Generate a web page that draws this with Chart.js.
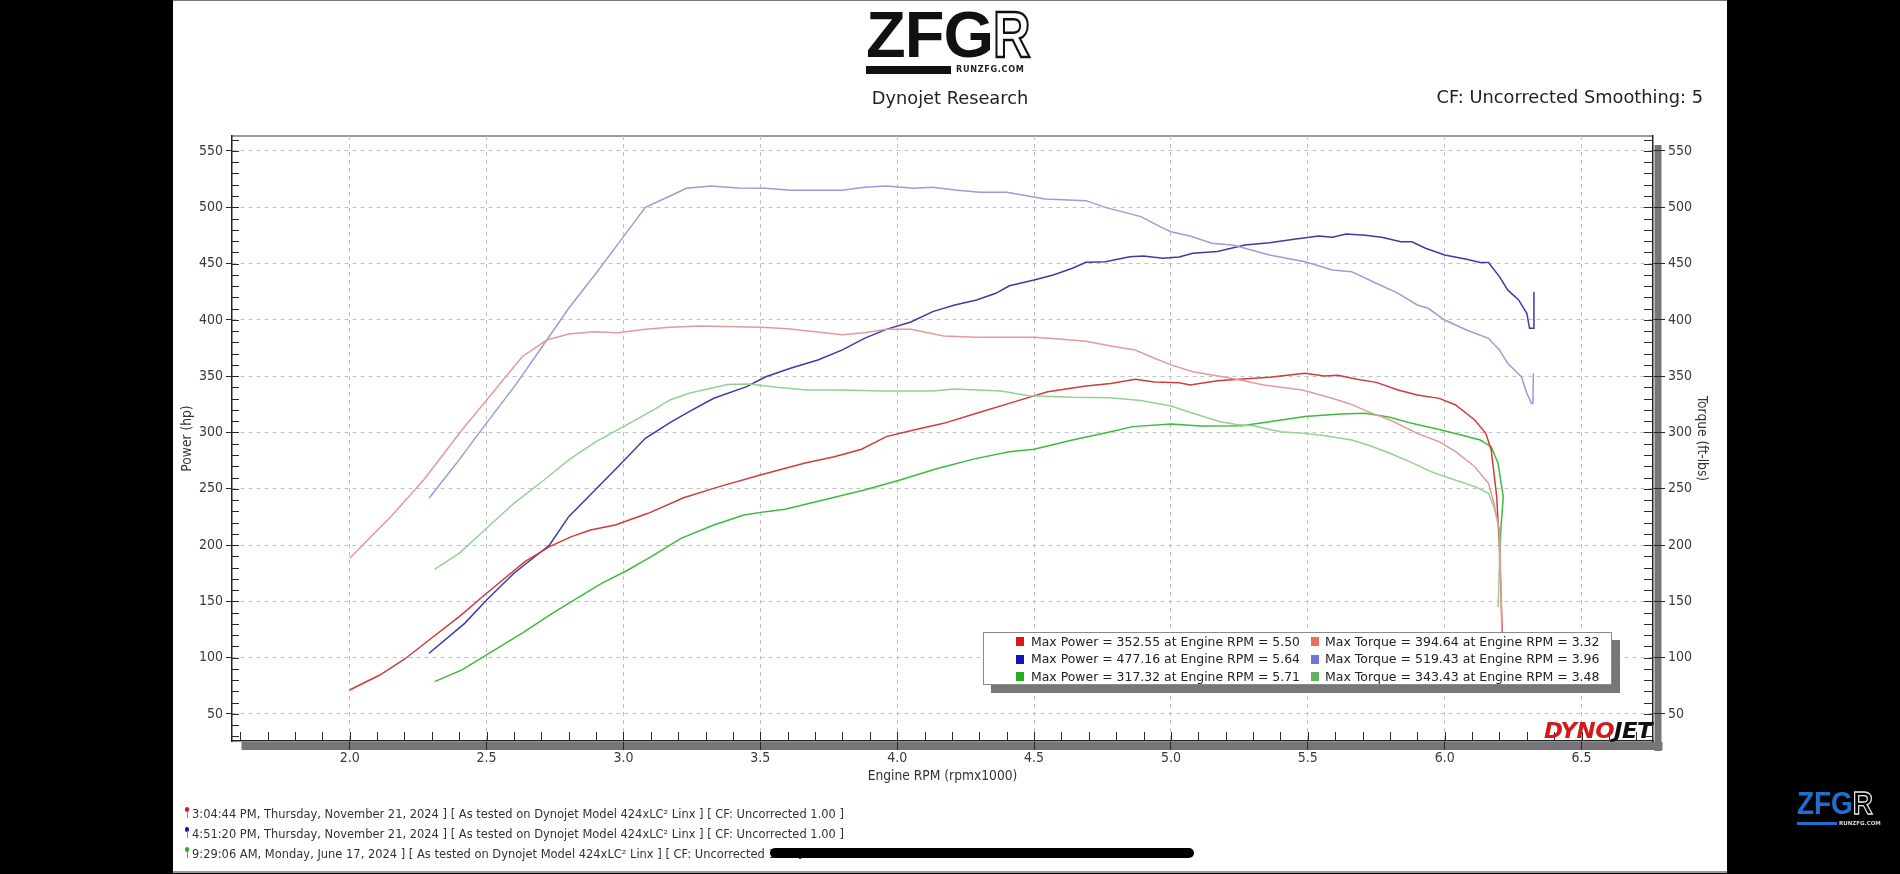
<!DOCTYPE html>
<html><head><meta charset="utf-8">
<script src="https://cdn.jsdelivr.net/npm/chart.js@4.4.1/dist/chart.umd.min.js"></script>
<style>
html,body{margin:0;padding:0;background:#000;width:1900px;height:874px;overflow:hidden;}
#panel{position:absolute;left:173px;top:0;width:1554px;height:873px;background:#fff;border-top:1px solid #777;border-bottom:2px solid #999;box-sizing:border-box}
#c{position:absolute;left:0;top:0;}
.t{position:absolute;white-space:nowrap;font-family:"DejaVu Sans",sans-serif;color:#2b2b2b}
#legend{position:absolute;left:983px;top:632px;width:629px;height:53px;background:#fff;border:1px solid #8a8a8a;box-sizing:border-box;box-shadow:8px 8px 0 #777;}
.lrow{position:absolute;height:18px;line-height:18px;font-size:13px;font-family:"DejaVu Sans",sans-serif;color:#222;white-space:nowrap;transform-origin:0 50%}
.sq{position:absolute;width:8px;height:9px}
.pin{position:absolute;width:4px;height:5px;border-radius:2px}
.stem{position:absolute;width:1px;height:7px;background:#8a8a8a}
.fl{transform-origin:0 50%}
</style></head><body>
<div id="panel"></div>
<canvas id="c" width="1900" height="874"></canvas>

<!-- top logo -->
<div class="t" style="left:866px;top:0px;font-family:'Liberation Sans',Arial,sans-serif;font-weight:bold;font-size:65px;line-height:70px;color:#111;letter-spacing:-1px">ZFG<span style="color:#fff;-webkit-text-stroke:2.5px #111;display:inline-block;transform:scaleX(0.8);transform-origin:0 0">R</span></div>
<div style="position:absolute;left:866px;top:66px;width:85px;height:8px;background:#111"></div>
<div class="t" id="runzfg" style="left:956px;top:64px;font-size:9px;line-height:11px;font-weight:bold;color:#222;letter-spacing:0.7px;font-family:'DejaVu Sans Condensed','DejaVu Sans',sans-serif">RUNZFG.COM</div>

<div class="t" id="title" style="left:950px;top:86px;font-size:17.8px;line-height:24px;transform:translateX(-50%);color:#222">Dynojet Research</div>
<div class="t" id="cf" style="right:197px;top:85px;font-size:17.8px;line-height:24px;color:#222">CF: Uncorrected Smoothing: 5</div>

<div id="legend"></div>

<div class="t" id="dynojet" style="left:1544px;top:720px;font-weight:bold;font-style:italic;font-size:21px;line-height:22px;letter-spacing:-0.5px;transform-origin:0 0"><span style="color:#d4181c">DYNO</span><span style="color:#111">JET</span></div>

<div id="footer"></div>
<div style="position:absolute;left:770px;top:848px;width:424px;height:10px;border-radius:5px;background:#000"></div>

<!-- bottom right logo -->
<div class="t" style="left:1797px;top:787px;font-family:'Liberation Sans',Arial,sans-serif;font-weight:bold;font-size:31px;line-height:34px;color:#1f6fd1;transform:scaleX(0.9);transform-origin:0 0">ZFG<span style="color:#000;-webkit-text-stroke:1.3px #e8e8e8">R</span></div>
<div style="position:absolute;left:1797px;top:822px;width:40px;height:3px;background:#1f6fd1"></div>
<div class="t" style="left:1839px;top:820px;font-size:5.5px;line-height:7px;color:#ddd;font-weight:bold">RUNZFG.COM</div>

<script>
// ---------------- DATA ----------------
const X_MIN = 1.57, X_MAX = 6.761;
const Y_MIN = 26, Y_MAX = 563.3;
const xTickStep = 0.5, yTickStep = 50;
const xMinorStep = 0.1, yMinorStep = 10;

// Run 1 (red) - 3:04:44 PM Nov 21, 2024
const run1PowerRpm = [2.00,2.11,2.20,2.29,2.40,2.50,2.64,2.73,2.81,2.88,2.97,3.09,3.22,3.35,3.50,3.66,3.77,3.87,3.96,4.06,4.17,4.29,4.43,4.55,4.69,4.78,4.87,4.94,5.03,5.07,5.17,5.25,5.36,5.49,5.56,5.61,5.68,5.75,5.83,5.90,5.98,6.04,6.11,6.15,6.17,6.19,6.20,6.21,6.215];
const run1PowerHp  = [71.3,84.6,98.6,115.7,136.4,157.2,185.3,198.6,207.5,213.4,217.8,228.2,242.0,251.9,262.3,272.6,278.5,285.1,296.3,302.2,308.1,317.0,327.4,336.2,341.3,343.6,347.2,344.8,344.2,342.2,346.0,347.2,349.0,352.5,350.2,350.8,347.2,344.5,337.7,333.3,330.3,324.4,311.1,299.2,284.5,243.0,198.6,124.6,105.0];
const run1TorqueRpm = [2.00,2.15,2.27,2.41,2.51,2.63,2.72,2.80,2.89,2.98,3.08,3.17,3.28,3.50,3.60,3.80,3.88,3.96,4.05,4.17,4.29,4.50,4.58,4.69,4.78,4.87,4.94,5.00,5.08,5.22,5.34,5.48,5.57,5.65,5.72,5.80,5.90,5.98,6.04,6.11,6.16,6.18,6.20,6.205,6.21];
const run1TorqueFt  = [188.3,225.2,257.8,302.2,331.8,367.3,382.1,387.5,389.5,388.6,391.6,393.4,394.6,393.4,392.2,386.9,388.6,391.6,391.6,385.7,384.5,384.5,383.3,381.0,376.8,373.3,365.9,360.0,354.0,348.1,342.2,337.7,331.8,325.8,318.5,311.1,299.2,291.8,282.9,269.6,254.9,237.1,213.4,170.0,105.0];

// Run 2 (blue) - 4:51:20 PM Nov 21, 2024
const run2PowerRpm = [2.29,2.42,2.50,2.60,2.73,2.80,2.89,2.98,3.08,3.17,3.24,3.33,3.45,3.52,3.61,3.71,3.80,3.88,3.96,4.05,4.13,4.21,4.29,4.36,4.41,4.50,4.57,4.64,4.69,4.76,4.85,4.90,4.97,5.03,5.08,5.17,5.27,5.36,5.45,5.54,5.59,5.64,5.71,5.77,5.84,5.88,5.93,6.00,6.08,6.13,6.16,6.20,6.23,6.27,6.30,6.31,6.325,6.326];
const run2PowerHp  = [103.9,130.5,151.2,175.0,200.1,225.2,247.4,269.6,294.8,308.7,318.5,330.4,340.7,349.5,357.0,364.4,373.3,383.6,391.6,398.1,407.3,413.2,417.7,423.6,430.3,435.4,439.9,445.8,451.1,451.7,456.1,456.8,454.7,455.9,459.2,460.7,466.5,468.6,471.6,474.5,473.3,476.3,475.1,473.3,469.4,469.4,463.6,457.7,453.8,450.9,450.9,438.4,426.6,417.7,405.9,392.5,392.5,425.0];
const run2TorqueRpm = [2.29,2.39,2.49,2.61,2.72,2.80,2.90,3.00,3.08,3.17,3.23,3.32,3.42,3.52,3.61,3.80,3.88,3.96,4.06,4.13,4.21,4.30,4.40,4.54,4.69,4.76,4.89,4.96,5.00,5.07,5.15,5.23,5.36,5.49,5.59,5.66,5.75,5.83,5.90,5.94,6.00,6.08,6.16,6.20,6.23,6.28,6.30,6.317,6.322,6.324];
const run2TorqueFt  = [241.6,272.6,305.2,343.6,382.1,410.3,441.4,473.9,499.9,510.0,516.8,518.9,517.1,516.8,515.1,515.1,517.7,518.9,516.8,517.7,515.4,513.3,513.3,507.4,505.9,499.9,491.7,482.8,478.3,474.5,468.0,466.2,457.7,451.7,444.3,442.8,432.5,423.6,413.2,410.3,399.9,391.0,383.6,373.3,361.5,349.5,334.8,325.8,325.8,352.5];

// Run 3 (green) - 9:29:06 AM Jun 17, 2024
const run3PowerRpm = [2.31,2.41,2.50,2.63,2.74,2.84,2.92,3.01,3.10,3.21,3.33,3.44,3.52,3.59,3.73,3.88,4.01,4.15,4.29,4.41,4.50,4.64,4.78,4.86,5.00,5.11,5.26,5.36,5.49,5.62,5.71,5.80,5.88,5.98,6.06,6.13,6.17,6.195,6.214,6.205,6.20];
const run3PowerHp  = [78.7,89.1,102.4,121.7,139.4,154.2,166.0,177.0,189.5,206.0,217.8,226.7,229.7,231.8,240.0,248.9,257.8,268.2,277.0,282.9,285.1,293.3,300.7,305.2,307.5,305.8,306.0,309.6,314.1,316.4,317.0,313.5,308.1,302.7,297.8,293.3,287.4,272.6,243.0,213.4,172.0];
const run3TorqueRpm = [2.31,2.40,2.48,2.60,2.71,2.80,2.90,3.00,3.11,3.17,3.24,3.38,3.46,3.56,3.67,3.80,3.94,4.13,4.21,4.38,4.48,4.64,4.78,4.89,5.00,5.08,5.18,5.24,5.30,5.40,5.49,5.57,5.66,5.72,5.80,5.88,5.95,6.03,6.11,6.16,6.18,6.20,6.20,6.195];
const run3TorqueFt  = [178.5,192.7,210.5,237.1,257.8,275.6,291.8,305.2,320.0,328.9,334.8,342.7,343.1,340.1,337.7,337.7,336.9,336.9,338.6,336.9,332.7,331.2,330.9,328.3,323.5,317.0,309.6,307.0,306.0,300.7,299.2,296.9,293.3,288.9,281.5,273.2,265.2,258.4,251.9,246.0,234.1,213.4,180.0,145.0];

// Legend summary values
const maxPower     = [352.55, 477.16, 317.32];
const maxPowerRpm  = [5.50, 5.64, 5.71];
const maxTorque    = [394.64, 519.43, 343.43];
const maxTorqueRpm = [3.32, 3.96, 3.48];

const runLabels = [
  "3:04:44 PM, Thursday, November 21, 2024 ] [ As tested on Dynojet Model 424xLC\u00B2 Linx ] [ CF: Uncorrected 1.00 ]",
  "4:51:20 PM, Thursday, November 21, 2024 ] [ As tested on Dynojet Model 424xLC\u00B2 Linx ] [ CF: Uncorrected 1.00 ]",
  "9:29:06 AM, Monday, June 17, 2024 ] [ As tested on Dynojet Model 424xLC\u00B2 Linx ] [ CF: Uncorrected 1.00 ]"
];

// ---------------- STYLE ----------------
const FONT = "'DejaVu Sans Condensed','DejaVu Sans',sans-serif";
const powerLine  = ['#d13b3b', '#3c3ca6', '#3dbb3d'];
const torqueLine = ['#e59a9a', '#9c9cd8', '#93d193'];
const powerSq    = ['#e01414', '#1414b4', '#22b022'];
const torqueSq   = ['#e8705f', '#7474d8', '#62b462'];
const pinColors  = ['#e01414', '#1414b4', '#22b022'];

function pts(xs, ys){ return xs.map((x,i)=>({x:x, y:ys[i]})); }

const runs = [
  {p: pts(run1PowerRpm, run1PowerHp), t: pts(run1TorqueRpm, run1TorqueFt)},
  {p: pts(run2PowerRpm, run2PowerHp), t: pts(run2TorqueRpm, run2TorqueFt)},
  {p: pts(run3PowerRpm, run3PowerHp), t: pts(run3TorqueRpm, run3TorqueFt)}
];
const datasets = [];
runs.forEach((r,i)=>{
  datasets.push({label:'Torque '+(i+1), data:r.t, yAxisID:'y2', borderColor:torqueLine[i], borderWidth:1.5, pointRadius:0, tension:0, fill:false});
});
runs.forEach((r,i)=>{
  datasets.push({label:'Power '+(i+1), data:r.p, yAxisID:'y', borderColor:powerLine[i], borderWidth:1.5, pointRadius:0, tension:0, fill:false});
});

const framePlugin = {
  id: 'frame',
  beforeDraw(chart){
    const {ctx, chartArea:a} = chart;
    ctx.save();
    ctx.fillStyle = '#767676';
    ctx.fillRect(a.left + 9.5, a.bottom + 1, a.right - a.left, 8);
    ctx.fillRect(a.right + 1.5, a.top + 9, 7, a.bottom - a.top + 1);
    ctx.fillStyle = '#9a9a9a';
    ctx.fillRect(a.left, a.top - 1, a.right - a.left, 2);
    ctx.restore();
  },
  afterDraw(chart){
    const {ctx, chartArea:a, scales} = chart;
    const x = scales.x, y = scales.y;
    ctx.save();
    ctx.strokeStyle = '#2a2a2a'; ctx.lineWidth = 1;
    ctx.beginPath();
    const xStart = Math.ceil(X_MIN / xMinorStep) * xMinorStep;
    for (let k = 0; xStart + k*xMinorStep <= X_MAX; k++){
      const px = Math.round(x.getPixelForValue(xStart + k*xMinorStep)) + 0.5;
      ctx.moveTo(px, a.bottom); ctx.lineTo(px, a.bottom - 9);
    }
    const yStart = Math.ceil(Y_MIN / yMinorStep) * yMinorStep;
    for (let k = 0; yStart + k*yMinorStep <= Y_MAX; k++){
      const py = Math.round(y.getPixelForValue(yStart + k*yMinorStep)) + 0.5;
      ctx.moveTo(a.left, py); ctx.lineTo(a.left + 7, py);
      ctx.moveTo(a.right, py); ctx.lineTo(a.right - 9, py);
    }
    ctx.stroke();
    ctx.restore();
  }
};

const tickFont = {family: FONT, size: 14};
const titleFont = {family: FONT, size: 13.7};
new Chart(document.getElementById('c'), {
  type: 'line',
  data: {datasets: datasets},
  options: {
    responsive: false, animation: false, devicePixelRatio: 1,
    layout: {padding: {top: 136, left: 0, right: 0, bottom: 0}},
    plugins: {legend: {display: false}, tooltip: {enabled: false}, title: {display: false}},
    scales: {
      x: {
        type: 'linear', position: 'bottom', min: X_MIN, max: X_MAX,
        afterFit: s => { s.height = 133; },
        ticks: {stepSize: xTickStep, includeBounds: false, autoSkip: false, maxRotation: 0, padding: 0, color: '#3a3a3a', font: tickFont, callback: v => Number(v).toFixed(1)},
        grid: {color: '#c2c2c2', lineWidth: 1, tickLength: 9, tickColor: '#2a2a2a', drawTicks: true},
        border: {display: true, color: '#222', width: 1.5, dash: [4,4]},
        title: {display: true, text: 'Engine RPM (rpmx1000)', color: '#333', font: titleFont, padding: {top: 0, bottom: 89}}
      },
      y: {
        type: 'linear', position: 'left', min: Y_MIN, max: Y_MAX,
        afterFit: s => { s.width = 232; },
        ticks: {stepSize: yTickStep, includeBounds: false, padding: 3, color: '#3a3a3a', font: tickFont},
        grid: {color: '#c2c2c2', lineWidth: 1, tickLength: 6, tickColor: '#2a2a2a'},
        border: {display: true, color: '#222', width: 1.5, dash: [4,4]},
        title: {display: true, text: 'Power (hp)', color: '#333', font: titleFont, padding: {top: 179, bottom: 0}}
      },
      y2: {
        type: 'linear', position: 'right', min: Y_MIN, max: Y_MAX,
        afterFit: s => { s.width = 247; },
        ticks: {stepSize: yTickStep, includeBounds: false, padding: 3, color: '#3a3a3a', font: tickFont},
        grid: {drawOnChartArea: false, tickLength: 12, tickColor: '#2a2a2a'},
        border: {display: true, color: '#222', width: 1.5},
        title: {display: true, text: 'Torque (ft-lbs)', color: '#333', font: titleFont, padding: {top: 190, bottom: 0}}
      }
    }
  },
  plugins: [framePlugin]
});

// fit an element horizontally to a target width
function fitWidth(el, target){
  const w = el.getBoundingClientRect().width;
  if (w > 0) el.style.transform = 'scaleX(' + (target / w) + ')';
}

// legend box
const lg = document.getElementById('legend');
for (let i = 0; i < 3; i++){
  const top = -0.5 + i*17.7;
  lg.insertAdjacentHTML('beforeend',
    `<div class="sq" style="left:32px;top:${top+4.5}px;background:${powerSq[i]}"></div>`+
    `<div class="lrow lp" style="left:46.6px;top:${top}px">Max Power = ${maxPower[i].toFixed(2)} at Engine RPM = ${maxPowerRpm[i].toFixed(2)}</div>`+
    `<div class="sq" style="left:326.6px;top:${top+4.5}px;background:${torqueSq[i]}"></div>`+
    `<div class="lrow lt" style="left:341px;top:${top}px">Max Torque = ${maxTorque[i].toFixed(2)} at Engine RPM = ${maxTorqueRpm[i].toFixed(2)}</div>`);
}
const lp = lg.querySelectorAll('.lp'), lt = lg.querySelectorAll('.lt');
const kp = 269 / lp[0].getBoundingClientRect().width;
const kt = 274.5 / lt[0].getBoundingClientRect().width;
lp.forEach(e => e.style.transform = 'scaleX(' + kp + ')');
lt.forEach(e => e.style.transform = 'scaleX(' + kt + ')');

// footer
const ft = document.getElementById('footer');
runLabels.forEach((txt,i)=>{
  const cy = 813.5 + i*20.2;
  ft.insertAdjacentHTML('beforeend',
    `<div class="pin" style="left:185px;top:${cy-7}px;background:${pinColors[i]}"></div>`+
    `<div class="stem" style="left:186.5px;top:${cy-3}px"></div>`+
    `<div class="t fl" style="left:192.3px;top:${cy-8}px;font-size:11.5px;line-height:16px;color:#333">${txt}</div>`);
});
const fls = ft.querySelectorAll('.fl');
const kf = 652 / fls[0].getBoundingClientRect().width;
fls.forEach(e => e.style.transform = 'scaleX(' + kf + ')');

fitWidth(document.getElementById('dynojet'), 108);
</script>
</body></html>
